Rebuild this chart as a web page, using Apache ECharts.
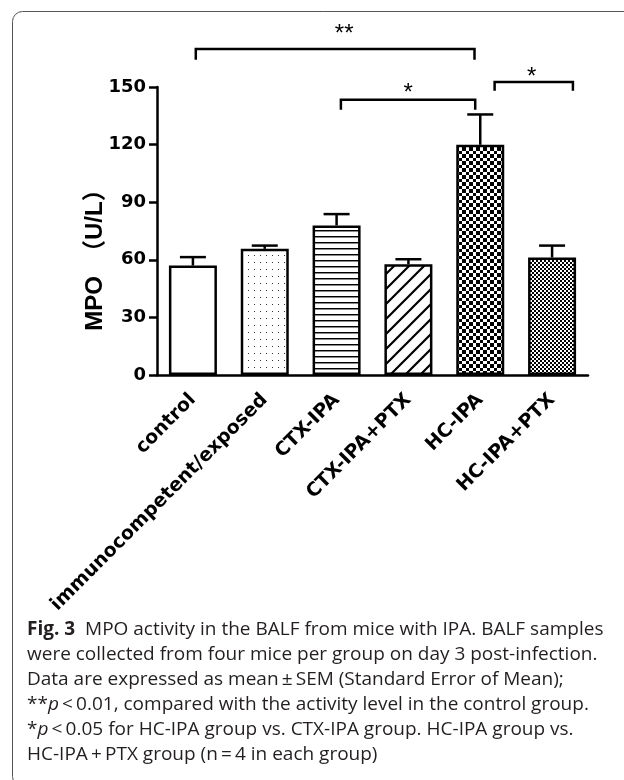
<!DOCTYPE html>
<html>
<head>
<meta charset="utf-8">
<script src="https://cdn.jsdelivr.net/npm/echarts@6/dist/echarts.min.js"></script>
<style>
  html, body { margin: 0; padding: 0; background: #fff; }
  #main { width: 624px; height: 780px; }
</style>
</head>
<body>
<div id="main"></div>
<script>
// 组别
const groups = ['control', 'immunocompetent/exposed', 'CTX-IPA', 'CTX-IPA+PTX', 'HC-IPA', 'HC-IPA+PTX'];
// MPO 均值 (U/L)
const mpoMean = [57.0, 65.7, 77.9, 57.7, 119.9, 61.2];
// 均值 + SEM (误差棒上端)
const mpoUpper = [61.4, 67.4, 83.8, 60.3, 135.7, 67.4];
// y轴刻度
const yMin = 0;
const yMax = 150;
const yStep = 30;
// 显著性标注: 起止位置(组序号), 横线高度, 竖线下端, 星号
const sigFrom = [0.04, 2.06, 4.2];
const sigTo = [3.92, 3.93, 5.29];
const sigLevel = [169.8, 143.4, 152.6];
const sigDrop = [164.2, 138.2, 148.0];
const sigMark = ['**', '*', '*'];

const captionLines = [
  '{b|Fig. 3}  MPO activity in the BALF from mice with IPA. BALF samples',
  'were collected from four mice per group on day 3 post-infection.',
  'Data are expressed as mean\u2009\u00b1\u2009SEM (Standard Error of Mean);',
  '**{i|p}\u2009<\u20090.01, compared with the activity level in the control group.',
  '*{i|p}\u2009<\u20090.05 for HC-IPA group vs. CTX-IPA group. HC-IPA group vs.',
  'HC-IPA\u2009+\u2009PTX group (n\u2009=\u20094 in each group)'
];

// 填充图案
function makePattern(w, h, draw) {
  const c = document.createElement('canvas');
  c.width = w;
  c.height = h;
  const ctx = c.getContext('2d');
  ctx.fillStyle = '#fff';
  ctx.fillRect(0, 0, w, h);
  draw(ctx);
  return { image: c, repeat: 'repeat' };
}

function checker(cells) {
  const size = cells.reduce((a, b) => a + b, 0);
  return makePattern(size, size, ctx => {
    ctx.fillStyle = '#000';
    let y = 0;
    cells.forEach((ch, r) => {
      let x = 0;
      cells.forEach((cw, c) => {
        if ((r + c) % 2 === 0) ctx.fillRect(x, y, cw, ch);
        x += cw;
      });
      y += ch;
    });
  });
}

const fills = [
  '#fff',
  makePattern(6, 7, ctx => {
    ctx.fillStyle = '#333';
    ctx.fillRect(2, 3, 1, 1);
  }),
  makePattern(6, 6, ctx => {
    ctx.fillStyle = '#000';
    ctx.fillRect(0, 2, 6, 1);
    ctx.fillStyle = '#888';
    ctx.fillRect(0, 3, 6, 1);
  }),
  makePattern(15, 15, ctx => {
    ctx.strokeStyle = '#000';
    ctx.lineWidth = 2.2;
    ctx.beginPath();
    ctx.moveTo(-2, 17); ctx.lineTo(17, -2);
    ctx.moveTo(-2, 2); ctx.lineTo(2, -2);
    ctx.moveTo(13, 17); ctx.lineTo(17, 13);
    ctx.stroke();
  }),
  checker([4, 3, 4, 3]),
  checker([2, 2])
];

const axisFont = {
  fontFamily: 'DejaVu Sans',
  fontWeight: 'bold',
  fontSize: 18,
  color: '#000'
};

// 星号位置微调 (px)
const starLift = [15, 6, 5];
const starShift = [9, 0, -2];

const chart = echarts.init(document.getElementById('main'), null, { renderer: 'canvas' });

const option = {
  backgroundColor: '#fff',
  animation: false,
  grid: { left: 157, right: 36, top: 87, bottom: 405, containLabel: false },
  xAxis: {
    type: 'category',
    data: groups,
    boundaryGap: true,
    axisLine: { lineStyle: { color: '#000', width: 2.5 } },
    axisTick: { alignWithLabel: true, length: 7, lineStyle: { color: '#000', width: 2.5 } },
    axisLabel: Object.assign({}, axisFont, { interval: 0, rotate: 45, margin: 22, fontSize: 19 }),
    splitLine: { show: false }
  },
  yAxis: {
    type: 'value',
    min: yMin,
    max: yMax,
    interval: yStep,
    axisLine: { show: true, lineStyle: { color: '#000', width: 2.5 } },
    axisTick: { show: true, length: 8, lineStyle: { color: '#000', width: 2.5 } },
    axisLabel: Object.assign({ margin: 11 }, axisFont),
    splitLine: { show: false }
  },
  series: [
    {
      type: 'bar',
      barWidth: 48,
      data: mpoMean.map((v, i) => ({
        value: v,
        itemStyle: { color: fills[i], borderColor: '#000', borderWidth: 2.5 }
      })),
      z: 2
    },
    {
      // 误差棒 (仅上端)
      type: 'custom',
      data: mpoMean.map((v, i) => [i, v, mpoUpper[i]]),
      encode: { x: 0, y: 1 },
      z: 3,
      renderItem: (params, api) => {
        const base = api.coord([api.value(0), api.value(1)]);
        const top = api.coord([api.value(0), api.value(2)]);
        const st = { stroke: '#000', lineWidth: 2.5, fill: null };
        return {
          type: 'group',
          children: [
            { type: 'line', shape: { x1: base[0], y1: base[1], x2: top[0], y2: top[1] }, style: st },
            { type: 'line', shape: { x1: top[0] - 13, y1: top[1], x2: top[0] + 13, y2: top[1] }, style: st }
          ]
        };
      }
    },
    {
      // 显著性括号
      type: 'custom',
      clip: false,
      data: sigFrom.map((f, k) => [Math.round(f), sigLevel[k], f, sigTo[k], sigDrop[k]]),
      encode: { x: 0, y: 1 },
      z: 3,
      renderItem: (params, api) => {
        const k = params.dataIndex;
        const x0 = api.coord([0, 0])[0];
        const band = api.size([1, 0])[0];
        const xa = x0 + api.value(2) * band;
        const xb = x0 + api.value(3) * band;
        const y = api.coord([0, api.value(1)])[1];
        const yd = api.coord([0, api.value(4)])[1];
        const st = { stroke: '#000', lineWidth: 2.5, fill: null };
        return {
          type: 'group',
          children: [
            { type: 'polyline', shape: { points: [[xa, yd], [xa, y], [xb, y], [xb, yd]] }, style: st },
            {
              type: 'text',
              x: (xa + xb) / 2 + starShift[k],
              y: y - starLift[k],
              style: {
                text: sigMark[k],
                fontFamily: 'Liberation Sans',
                fontSize: 24,
                fill: '#000',
                align: 'center',
                verticalAlign: 'middle'
              }
            }
          ]
        };
      }
    }
  ],
  graphic: [
    {
      type: 'rect',
      shape: { x: 12.5, y: 11.5, width: 700, height: 775, r: 10 },
      style: { fill: null, stroke: '#555', lineWidth: 1 },
      z: -1
    },
    {
      type: 'text',
      x: 95,
      y: 254,
      rotation: Math.PI / 2,
      style: {
        text: 'MPO\u3000（U/L）',
        fontFamily: 'Liberation Sans, Noto Sans CJK SC',
        fontWeight: 'bold',
        fontSize: 24,
        fill: '#000',
        align: 'center',
        verticalAlign: 'middle'
      }
    }
  ].concat(captionLines.map((t, k) => ({
    type: 'text',
    left: 27,
    top: 620 + k * 25,
    style: {
      text: t,
      fontFamily: 'Open Sans',
      fontSize: 19,
      fill: '#231f20',
      rich: {
        b: { fontFamily: 'Open Sans', fontWeight: 'bold', fontSize: 19, fill: '#231f20' },
        i: { fontFamily: 'Open Sans', fontStyle: 'italic', fontSize: 19, fill: '#231f20' }
      }
    }
  })))
};

chart.setOption(option);
</script>
</body>
</html>
